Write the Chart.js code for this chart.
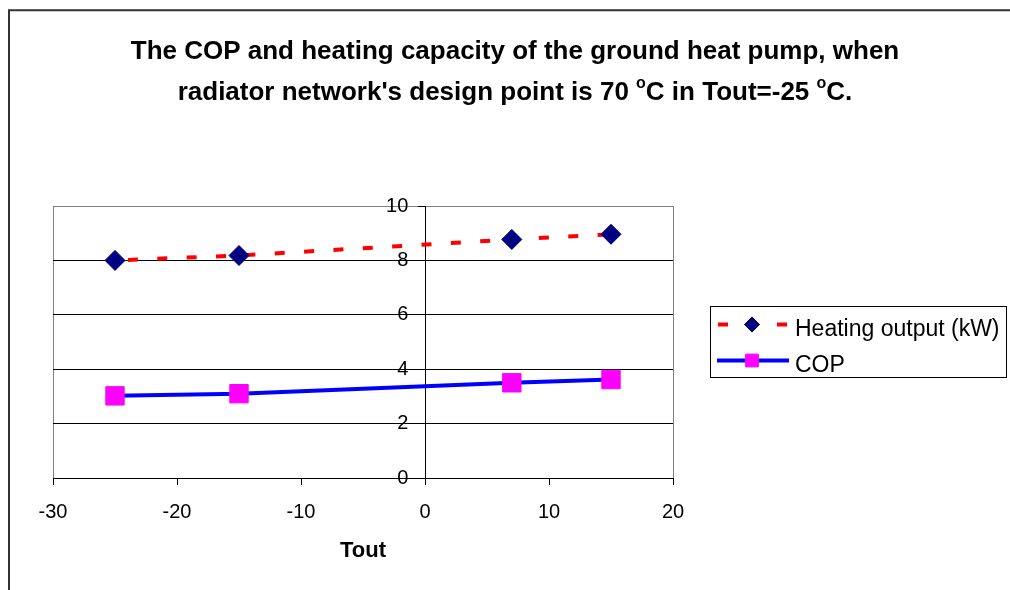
<!DOCTYPE html>
<html>
<head>
<meta charset="utf-8">
<style>
  html, body { margin: 0; padding: 0; background: #ffffff; }
  #wrap { width: 1010px; height: 590px; position: relative; }
</style>
<script src="https://cdn.jsdelivr.net/npm/chart.js@4.4.1/dist/chart.umd.min.js"></script>
</head>
<body>
<div id="wrap"><canvas id="chart" width="1010" height="590"></canvas></div>
<script>
// Outdoor temperature (°C) of each measured operating point
const toutValues = [-25, -15, 7, 15];
// Heating output of the heat pump (kW)
const heatingOutput = [8.0, 8.18, 8.77, 8.96];
// Coefficient of performance
const copValues = [3.02, 3.1, 3.5, 3.62];

const seriesNames = ['Heating output (kW)', 'COP'];
const xAxisTitle = 'Tout';
const xRange = [-30, 20];
const yRange = [0, 10];

// Title lines; "sup" parts are drawn as superscripts
const titleLine1 = [{ t: 'The COP and heating capacity of the ground heat pump, when' }];
const titleLine2 = [
  { t: "radiator network's design point is 70 " }, { t: 'o', sup: true },
  { t: 'C in Tout=-25 ' }, { t: 'o', sup: true }, { t: 'C.' }
];

const FONT = '"Liberation Sans", Arial, Helvetica, sans-serif';
Chart.defaults.font.family = FONT;
Chart.defaults.color = '#000000';

const points = (xs, ys) => xs.map((x, i) => ({ x: x, y: ys[i] }));

// Outer frame of the chart object
const framePlugin = {
  id: 'frame',
  beforeDraw(chart) {
    const ctx = chart.ctx;
    ctx.save();
    ctx.fillStyle = '#ffffff';
    ctx.fillRect(0, 0, chart.width, chart.height);
    ctx.strokeStyle = '#333333';
    ctx.lineWidth = 2;
    ctx.beginPath();
    ctx.moveTo(9, chart.height + 2);
    ctx.lineTo(9, 10.3);
    ctx.lineTo(chart.width + 2, 10.3);
    ctx.stroke();
    ctx.restore();
  }
};

// Two-line bold title with superscript degree marks
const titlePlugin = {
  id: 'supTitle',
  afterDraw(chart, args, opts) {
    const ctx = chart.ctx;
    const mainFont = 'bold 26px ' + FONT;
    const supFont = 'bold 16px ' + FONT;
    const drawLine = (parts, baseline) => {
      let total = 0;
      parts.forEach(p => { ctx.font = p.sup ? supFont : mainFont; total += ctx.measureText(p.t).width; });
      let x = opts.centerX - total / 2;
      parts.forEach(p => {
        ctx.font = p.sup ? supFont : mainFont;
        ctx.fillText(p.t, x, p.sup ? baseline - 12 : baseline);
        x += ctx.measureText(p.t).width;
      });
    };
    ctx.save();
    ctx.fillStyle = '#000000';
    ctx.textBaseline = 'alphabetic';
    ctx.textAlign = 'left';
    drawLine(titleLine1, 58.5);
    drawLine(titleLine2, 99.5);
    ctx.restore();
  }
};

// Boxed legend with line + marker samples taken from the datasets
const boxLegendPlugin = {
  id: 'boxLegend',
  afterDraw(chart) {
    const ctx = chart.ctx;
    const ds = chart.data.datasets;
    const box = { x: 710.5, y: 306.5, w: 296, h: 71 };
    ctx.save();
    ctx.strokeStyle = '#000000';
    ctx.lineWidth = 1;
    ctx.strokeRect(box.x, box.y, box.w, box.h);

    const rows = [324.5, 360.5];
    const textBase = [335.5, 371.5];
    ds.forEach((d, i) => {
      const y = rows[i];
      ctx.setLineDash([]);
      ctx.lineWidth = d.borderWidth;
      ctx.strokeStyle = d.borderColor;
      ctx.lineCap = 'butt';
      ctx.beginPath();
      if (d.borderDash && d.borderDash.length) {
        ctx.moveTo(718, y); ctx.lineTo(728, y);
        ctx.moveTo(777, y); ctx.lineTo(787, y);
      } else {
        ctx.moveTo(717, y); ctx.lineTo(789, y);
      }
      ctx.stroke();

      const r = d.pointStyle === 'rectRot' ? 7.5 : 9;
      ctx.fillStyle = d.pointBackgroundColor;
      ctx.strokeStyle = d.pointBorderColor;
      ctx.lineWidth = 1;
      Chart.helpers.drawPoint(ctx, {
        pointStyle: d.pointStyle, rotation: 0, borderWidth: 1, radius: r
      }, 752, y);

      ctx.fillStyle = '#000000';
      ctx.font = '23px ' + FONT;
      ctx.textAlign = 'left';
      ctx.textBaseline = 'alphabetic';
      ctx.fillText(d.label, 795, textBase[i]);
    });
    ctx.restore();
  }
};

const chart = new Chart(document.getElementById('chart'), {
  type: 'scatter',
  data: {
    datasets: [
      {
        label: seriesNames[0],
        data: points(toutValues, heatingOutput),
        showLine: true,
        borderColor: '#FF0000',
        borderWidth: 4,
        borderDash: [10, 19.4],
        borderDashOffset: 16.5,
        tension: 0,
        pointStyle: 'rectRot',
        pointRadius: 10,
        pointHoverRadius: 10,
        pointBackgroundColor: '#000080',
        pointBorderColor: '#000080',
        pointBorderWidth: 1
      },
      {
        label: seriesNames[1],
        data: points(toutValues, copValues),
        showLine: true,
        borderColor: '#0000FF',
        borderWidth: 4,
        tension: 0,
        pointStyle: 'rect',
        pointRadius: 13,
        pointHoverRadius: 13,
        pointBackgroundColor: '#FF00FF',
        pointBorderColor: '#FF00FF',
        pointBorderWidth: 1
      }
    ]
  },
  options: {
    responsive: false,
    devicePixelRatio: 1,
    animation: false,
    events: [],
    layout: { padding: { left: 53, right: 337, top: 206, bottom: 26 } },
    plugins: {
      legend: { display: false },
      tooltip: { enabled: false },
      title: { display: false },
      supTitle: { centerX: 515 }
    },
    scales: {
      x: {
        type: 'linear',
        min: xRange[0],
        max: xRange[1],
        ticks: { stepSize: 10, padding: 15, font: { size: 20 }, color: '#000000', maxRotation: 0 },
        grid: {
          color: c => (c.tick && (c.tick.value === xRange[0] || c.tick.value === xRange[1])) ? '#808080' : 'rgba(0,0,0,0)',
          tickColor: '#000000',
          tickLength: 7,
          lineWidth: 1
        },
        border: { display: true, color: '#000000', width: 1 },
        title: {
          display: true,
          text: xAxisTitle,
          font: { size: 22, weight: 'bold' },
          color: '#000000',
          padding: { top: 4, bottom: 0 }
        },
        afterFit: s => { s.height = 86; }
      },
      y: {
        type: 'linear',
        min: yRange[0],
        max: yRange[1],
        position: { x: 0 },
        ticks: {
          stepSize: 2,
          font: { size: 20 },
          color: '#000000',
          // labels sit left of the axis crossing at x = 0, clear of the tick marks
          callback: v => v + '   '
        },
        grid: {
          color: c => (c.tick && c.tick.value === yRange[1]) ? '#808080' : '#000000',
          tickColor: '#000000',
          tickLength: 7,
          lineWidth: 1
        },
        border: { display: true, color: '#000000', width: 1 }
      }
    }
  },
  plugins: [framePlugin, titlePlugin, boxLegendPlugin]
});
</script>
</body>
</html>
